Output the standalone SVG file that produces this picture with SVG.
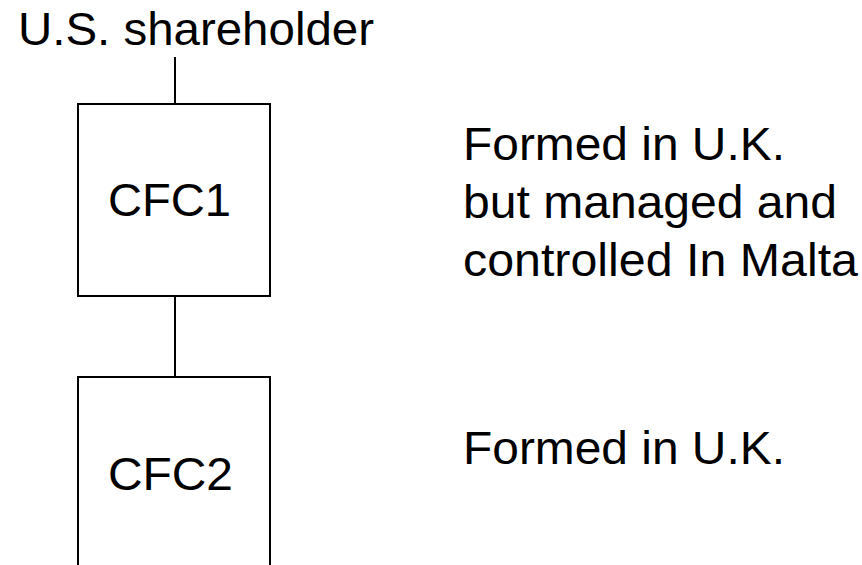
<svg xmlns="http://www.w3.org/2000/svg" width="862" height="565" viewBox="0 0 862 565">
<style>
text{font-family:"Liberation Sans",Arial,sans-serif;font-size:46px;fill:#000}
.box{fill:#fff;stroke:#000;stroke-width:2}
.conn{stroke:#000;stroke-width:2;fill:none}
</style>
<rect width="862" height="565" fill="#fff"/>
<g id="shareholder"><text x="18" y="45" textLength="356" lengthAdjust="spacingAndGlyphs">U.S. shareholder</text></g>
<g id="connectors">
<line class="conn" x1="175" y1="57" x2="175" y2="104"/>
<line class="conn" x1="175" y1="296" x2="175" y2="377"/>
</g>
<g id="cfc1"><rect class="box" x="78" y="104" width="192" height="192"/><text x="108" y="216" textLength="123" lengthAdjust="spacingAndGlyphs">CFC1</text></g>
<g id="cfc2"><rect class="box" x="78" y="377" width="192" height="200"/><text x="108" y="490" textLength="125" lengthAdjust="spacingAndGlyphs">CFC2</text></g>
<g id="note1"><text x="463" y="160" textLength="322" lengthAdjust="spacingAndGlyphs">Formed in U.K.</text><text x="463" y="218" textLength="374" lengthAdjust="spacingAndGlyphs">but managed and</text><text x="463" y="276" textLength="395" lengthAdjust="spacingAndGlyphs">controlled In Malta</text></g>
<g id="note2"><text x="463" y="464" textLength="322" lengthAdjust="spacingAndGlyphs">Formed in U.K.</text></g>
</svg>
